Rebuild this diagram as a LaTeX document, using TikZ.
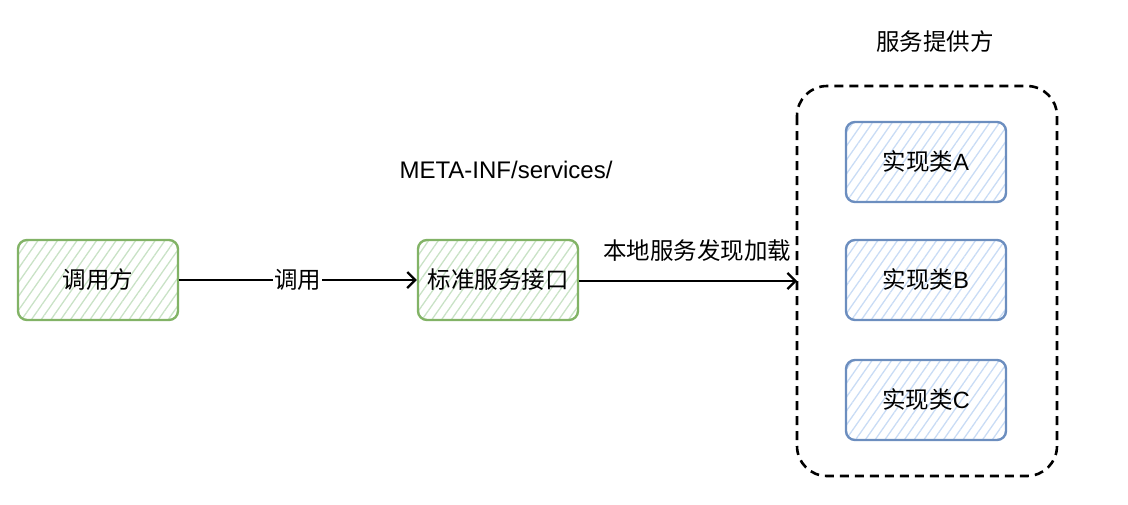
\documentclass[tikz,border=0pt]{standalone}
\usepackage{fontspec}
\setmainfont{Liberation Sans}
\newfontfamily\cjk{Noto Sans CJK SC}
\usetikzlibrary{arrows.meta,patterns.meta}
\definecolor{gstroke}{HTML}{82B366}
\definecolor{gfill}{HTML}{C9E2C6}
\definecolor{bstroke}{HTML}{6C8EBF}
\definecolor{bfill}{HTML}{C9DCF5}
\tikzset{
  gbox/.style={draw=gstroke, line width=2.4pt, rounded corners=9pt,
    pattern={Lines[angle=55,distance=8pt,line width=1.3pt]}, pattern color=gfill,
    minimum width=160pt, minimum height=80pt, inner sep=0pt},
  bbox/.style={draw=bstroke, line width=2.4pt, rounded corners=9pt,
    pattern={Lines[angle=55,distance=8pt,line width=1.3pt]}, pattern color=bfill,
    minimum width=160pt, minimum height=80pt, inner sep=0pt},
  txt/.style={font=\fontsize{23.5}{26}\selectfont, text=black, inner sep=1pt},
  conn/.style={line width=2.2pt, -{Straight Barb[length=8pt,width=16pt,line width=2.2pt]}},
  lbl/.style={fill=white, font=\fontsize{23.5}{26}\selectfont, inner sep=1pt},
  group/.style={draw=black, line width=2.6pt, dash pattern=on 9pt off 6pt, rounded corners=30pt}
}
\begin{document}
\begin{tikzpicture}[x=1pt,y=-1pt]
\useasboundingbox (0,0) rectangle (1128,504);
\node[gbox] (caller) at (98,280) {};
\node[txt] at (caller) {\cjk 调用方};
\node[gbox] (iface) at (498,280) {};
\node[txt] at (iface) {\cjk 标准服务接口};
\draw[group] (797,86) rectangle (1057,476);
\coordinate (gleft) at (797,281);
\node[bbox] (a) at (926,162) {};
\node[txt] at (a) {{\cjk 实现类}A};
\node[bbox] (b) at (926,280) {};
\node[txt] at (b) {{\cjk 实现类}B};
\node[bbox] (c) at (926,400) {};
\node[txt] at (c) {{\cjk 实现类}C};
\node[txt] (prov) at (935,42) {\cjk 服务提供方};
\node[txt, font=\fontsize{24}{26}\selectfont] (meta) at (506,170) {META-INF/services/};
\draw[conn] (caller.east) -- node[lbl] {\cjk 调用} (iface.west);
\draw[conn] (iface.east |- 0,281) -- (gleft);
\node[txt] (load) at (697,251) {\cjk 本地服务发现加载};
\end{tikzpicture}
\end{document}
